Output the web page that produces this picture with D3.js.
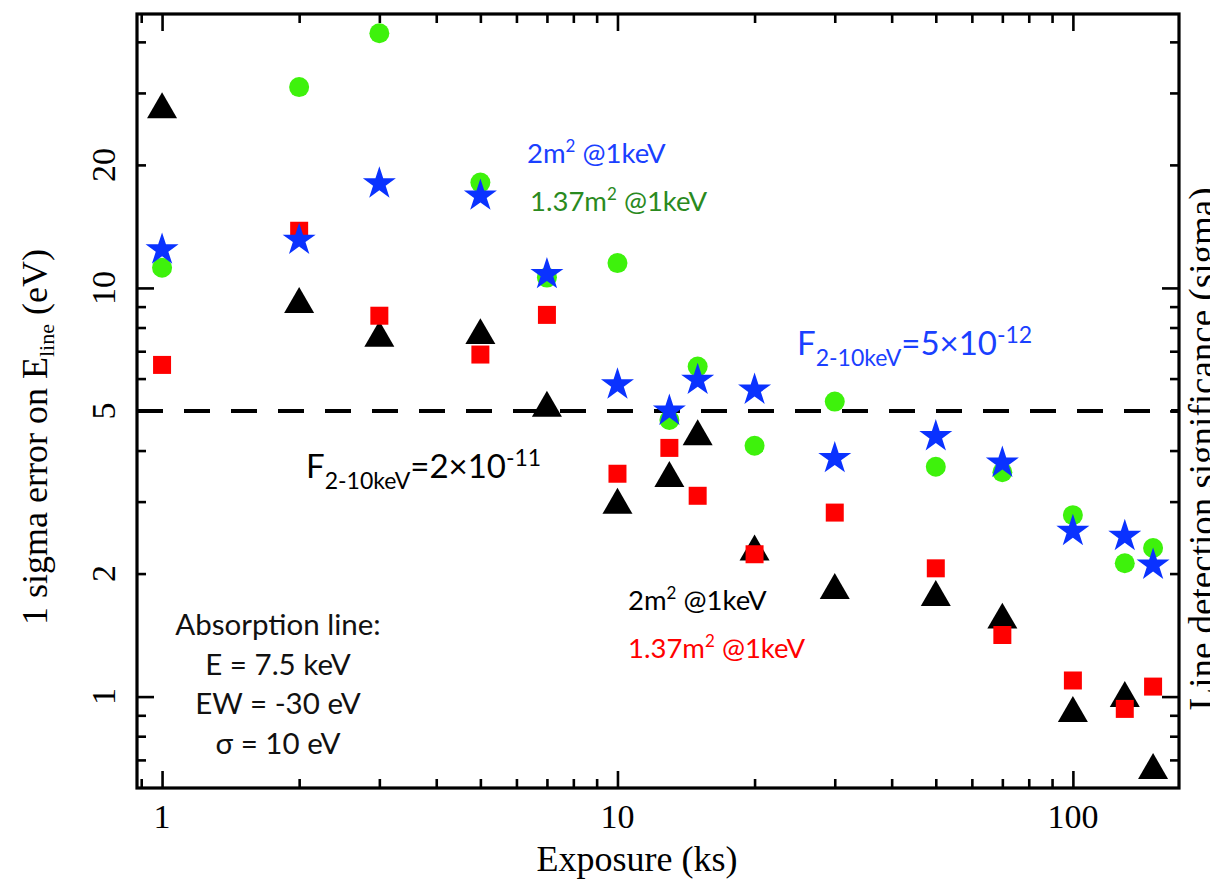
<!DOCTYPE html>
<html>
<head>
<meta charset="utf-8">
<script src="https://cdn.jsdelivr.net/npm/d3@7"></script>
<style>
  body { margin: 0; background: #fff; }
  .serif { font-family: "Liberation Serif", "Times New Roman", serif; }
  .sans { font-family: Lato, "Open Sans", sans-serif; }
  .tick line { stroke: #000; stroke-width: 2.6; }
</style>
</head>
<body>
<svg width="1210" height="879"></svg>
<script>
// exposure (ks)
const exposure = [1, 2, 3, 5, 7, 10, 13, 15, 20, 30, 50, 70, 100, 130, 150];
// F=5e-12, 2 m2 (blue stars) and 1.37 m2 (green circles)
const faint2m = [12.4, 13.1, 18.0, 16.8, 10.8, 5.8, 5.0, 5.95, 5.63, 3.83, 4.33, 3.73, 2.54, 2.47, 2.10];
const faint137 = [11.2, 31, 42, 18.1, 10.6, 11.5, 4.75, 6.42, 4.11, 5.27, 3.65, 3.54, 2.78, 2.12, 2.31];
// F=2e-11, 2 m2 (black triangles) and 1.37 m2 (red squares)
const bright2m = [27.3, 9.12, 7.54, 7.65, 5.08, 2.94, 3.42, 4.33, 2.26, 1.82, 1.75, 1.54, 0.91, 0.99, 0.66];
const bright137 = [6.48, 13.8, 8.55, 6.87, 8.59, 3.51, 4.06, 3.10, 2.23, 2.82, 2.06, 1.415, 1.095, 0.933, 1.058];

const xMajor = [1, 10, 100];
const xMinor = [0.9, 2, 3, 4, 5, 6, 7, 8, 9, 20, 30, 40, 50, 60, 70, 80, 90];
const yMajor = [1, 10];
const yMinor = [0.7, 0.8, 0.9, 2, 3, 4, 5, 6, 7, 8, 9, 20, 30, 40];
const yLabels = [1, 2, 5, 10, 20];
const threshold = 5;

const svg = d3.select("svg");
const L = 137, R = 1179, T = 14, B = 788;

const x = d3.scaleLog().domain([0.881, 171]).range([L, R]);
const y = d3.scaleLog().domain([0.5975, 46.8]).range([B, T]);

// ticks on all four sides, pointing inward
function ticks(axis, vals, size, tr) {
  svg.append("g").attr("transform", tr)
    .call(axis.tickValues(vals).tickSize(size).tickFormat(""))
    .call(g => g.select(".domain").remove());
}
ticks(d3.axisBottom(x), xMajor, -17, `translate(0,${B})`);
ticks(d3.axisBottom(x), xMinor, -9, `translate(0,${B})`);
ticks(d3.axisTop(x), xMajor, -17, `translate(0,${T})`);
ticks(d3.axisTop(x), xMinor, -9, `translate(0,${T})`);
ticks(d3.axisLeft(y), yMajor, -17, `translate(${L},0)`);
ticks(d3.axisLeft(y), yMinor, -9, `translate(${L},0)`);
ticks(d3.axisRight(y), yMajor, -17, `translate(${R},0)`);
ticks(d3.axisRight(y), yMinor, -9, `translate(${R},0)`);

svg.append("rect")
  .attr("x", L).attr("y", T).attr("width", R - L).attr("height", B - T)
  .attr("fill", "none").attr("stroke", "#000").attr("stroke-width", 3.2);

// tick labels
svg.selectAll(".xl").data(xMajor).enter().append("text")
  .attr("class", "serif").attr("x", d => x(d)).attr("y", 828)
  .attr("text-anchor", "middle").attr("font-size", 34).text(d => d);
svg.selectAll(".yl").data(yLabels).enter().append("text")
  .attr("class", "serif")
  .attr("transform", d => `translate(115,${y(d)}) rotate(-90)`)
  .attr("text-anchor", "middle").attr("font-size", 34).text(d => d);

// axis titles
svg.append("text").attr("class", "serif").attr("x", 637).attr("y", 871)
  .attr("text-anchor", "middle").attr("font-size", 36).text("Exposure (ks)");
const yt = svg.append("text").attr("class", "serif")
  .attr("transform", "translate(47,437) rotate(-90)")
  .attr("text-anchor", "middle").attr("font-size", 36);
yt.append("tspan").text("1 sigma error on E");
yt.append("tspan").attr("font-size", 22).attr("dy", 7).text("line");
yt.append("tspan").attr("dy", -7).text(" (eV)");
// right-hand title is cut by the page edge, as in the original figure
svg.append("text").attr("class", "serif")
  .attr("transform", "translate(1215,449) rotate(-90)")
  .attr("text-anchor", "middle").attr("font-size", 37)
  .text("Line detection significance (sigma)");

// 5 eV dashed line
svg.append("line")
  .attr("x1", L).attr("x2", R).attr("y1", y(threshold)).attr("y2", y(threshold))
  .attr("stroke", "#000").attr("stroke-width", 4).attr("stroke-dasharray", "26,21");

// markers
function markers(vals, type, size, color) {
  svg.append("g").selectAll("path")
    .data(exposure.map((e, i) => [e, vals[i]]))
    .enter().append("path")
    .attr("transform", d => `translate(${x(d[0])},${y(d[1])})`)
    .attr("d", d3.symbol().type(type).size(size))
    .attr("fill", color);
}
markers(bright2m, d3.symbolTriangle, 390, "#000");
markers(bright137, d3.symbolSquare, 324, "#ff0000");
markers(faint137, d3.symbolCircle, 314, "#3ef20c");
markers(faint2m, d3.symbolStar, 338, "#0a32ff");

// annotations
function area(xp, yp, color, a) {
  const t = svg.append("text").attr("class", "sans").attr("x", xp).attr("y", yp)
    .attr("font-size", 27.5).attr("fill", color);
  t.append("tspan").text(a + "m");
  t.append("tspan").attr("font-size", 17).attr("dy", -11).text("2");
  t.append("tspan").attr("dy", 11).text(" @1keV");
}
area(527, 163, "#1a40ff", "2");
area(530, 211, "#2a8a1e", "1.37");
area(628, 610, "#000", "2");
area(628, 658, "#ff0000", "1.37");

function flux(xp, yp, color, m, e) {
  const t = svg.append("text").attr("class", "sans").attr("x", xp).attr("y", yp)
    .attr("font-size", 33).attr("fill", color);
  t.append("tspan").text("F");
  t.append("tspan").attr("font-size", 23).attr("dy", 11).text("2-10keV");
  t.append("tspan").attr("dy", -11).text("=" + m + "×10");
  t.append("tspan").attr("font-size", 23).attr("dy", -12).text(e);
}
flux(797, 355, "#1a40ff", "5", "-12");
flux(306, 478, "#000", "2", "-11");

const info = ["Absorption line:", "E = 7.5 keV", "EW = -30 eV", "σ = 10 eV"];
svg.selectAll(".info").data(info).enter().append("text")
  .attr("class", "sans").attr("x", 278).attr("y", (d, i) => 635 + i * 39.7)
  .attr("text-anchor", "middle").attr("font-size", 29.5).attr("fill", "#111").text(d => d);
</script>
</body>
</html>
